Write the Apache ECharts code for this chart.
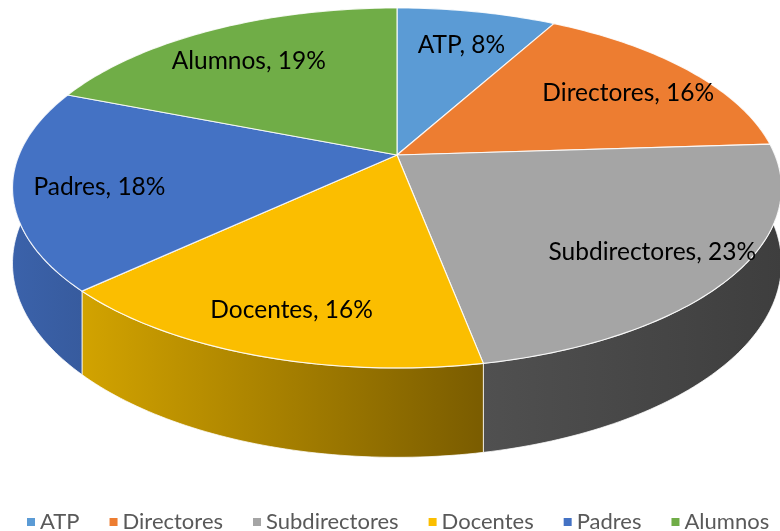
<!DOCTYPE html>
<html>
<head>
<meta charset="utf-8">
<title>Pie 3D</title>
<script src="https://cdn.jsdelivr.net/npm/echarts@6/dist/echarts.min.js"></script>
<style>
  html, body { margin: 0; padding: 0; background: #fff; }
  #main { width: 780px; height: 531px; }
</style>
</head>
<body>
<div id="main"></div>
<script>
// datos del grafico
var categories = ['ATP', 'Directores', 'Subdirectores', 'Docentes', 'Padres', 'Alumnos'];
var values = [8, 16, 23, 16, 18, 19];

// colores (cara superior y pared lateral claro -> oscuro)
var colors = ['#5b9bd5', '#ed7d31', '#a5a5a5', '#fbbe00', '#4472c4', '#70ad47'];
var sideColors = [
  ['#4a86bf', '#3a6e9f'],
  ['#d06a24', '#a8531a'],
  ['#505050', '#3e3e3e'],
  ['#d2a300', '#7a5c00'],
  ['#3b62aa', '#375b9e'],
  ['#5f9a3b', '#4c7d2f']
];

var total = 0;
var starts = [];
for (var i = 0; i < values.length; i++) {
  starts.push(total);
  total += values[i];
}

// geometria de la "tarta" en perspectiva
var geo = { cx: 397, cy: 155, rx: 378, ry: 174, persp: 0.183, depth: 73 };
var DEG = Math.PI / 180;

var project = function (r, ang, drop) {
  var u = r * Math.sin(ang);
  var v = -r * Math.cos(ang);
  var f = 1 / (1 - geo.persp * v);
  return [geo.cx + geo.rx * u * f, geo.cy + (geo.ry * v + drop) * f];
};

var arcPoints = function (a0, a1, drop) {
  var n = Math.max(2, Math.ceil((a1 - a0) / DEG));
  var pts = [];
  for (var k = 0; k <= n; k++) {
    pts.push(project(1, a0 + (a1 - a0) * k / n, drop));
  }
  return pts;
};

var renderSlice = function (idx) {
  return function (params, api) {
    var a0 = starts[idx] / total * 2 * Math.PI;
    var a1 = (starts[idx] + values[idx]) / total * 2 * Math.PI;
    var children = [];

    // pared lateral (solo la parte de delante)
    var b0 = Math.max(a0, 80 * DEG);
    var b1 = Math.min(a1, 282 * DEG);
    if (b1 > b0) {
      var top = arcPoints(b0, b1, 0);
      var bottom = arcPoints(b0, b1, geo.depth).reverse();
      children.push({
        type: 'polygon',
        z2: 1,
        shape: { points: top.concat(bottom) },
        style: {
          fill: new echarts.graphic.LinearGradient(0, 0, 1, 0, [
            { offset: 0, color: sideColors[idx][0] },
            { offset: 1, color: sideColors[idx][1] }
          ]),
          stroke: 'rgba(255,255,255,0.75)',
          lineWidth: 1
        }
      });
    }

    // cara superior
    children.push({
      type: 'polygon',
      z2: 10,
      shape: { points: [[geo.cx, geo.cy]].concat(arcPoints(a0, a1, 0)) },
      style: {
        fill: api.visual('color'),
        stroke: 'rgba(255,255,255,0.85)',
        lineWidth: 1.2
      }
    });

    // etiqueta
    var p = project(0.78, (a0 + a1) / 2, 0);
    children.push({
      type: 'text',
      z2: 20,
      x: p[0],
      y: p[1] + 6,
      style: {
        text: categories[idx] + ', ' + Math.round(values[idx] / total * 100) + '%',
        fill: '#000',
        fontFamily: 'Lato',
        fontSize: 24.5,
        align: 'center',
        verticalAlign: 'middle'
      }
    });
    return { type: 'group', children: children };
  };
};

var series = [];
for (var j = 0; j < categories.length; j++) {
  series.push({
    type: 'custom',
    name: categories[j],
    coordinateSystem: 'none',
    data: [values[j]],
    renderItem: renderSlice(j)
  });
}

var myChart = echarts.init(document.getElementById('main'));
var option = {
  animation: false,
  color: colors,
  legend: {
    data: categories,
    left: 22,
    top: 506,
    width: 1200,
    icon: 'rect',
    itemWidth: 8,
    itemHeight: 8,
    itemGap: 30,
    textStyle: { fontFamily: 'Lato', fontSize: 22, color: '#595959' }
  },
  series: series
};
myChart.setOption(option);
</script>
</body>
</html>
